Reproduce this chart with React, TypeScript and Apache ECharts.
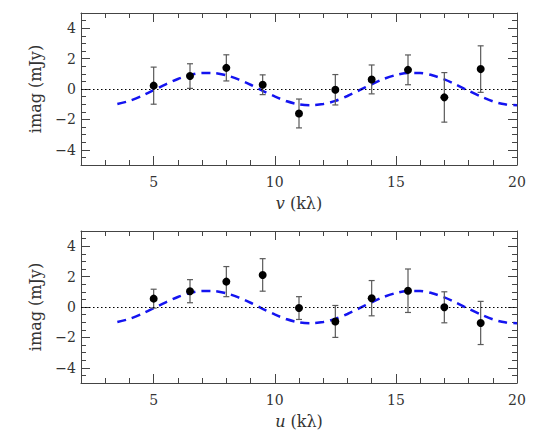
import React, { useEffect, useRef } from 'react';
import * as echarts from 'echarts';

// measured baselines (kλ)
const baselines = [5, 6.5, 8, 9.5, 11, 12.5, 14, 15.5, 17, 18.5];

// top panel: imag vs v
const vImag = [0.22, 0.85, 1.39, 0.28, -1.61, -0.05, 0.63, 1.26, -0.55, 1.31];
const vErr = [1.22, 0.81, 0.86, 0.65, 0.95, 1.0, 0.95, 0.98, 1.63, 1.53];

// bottom panel: imag vs u
const uImag = [0.55, 1.04, 1.67, 2.11, -0.07, -0.95, 0.58, 1.07, -0.02, -1.05];
const uErr = [0.62, 0.76, 0.99, 1.07, 0.75, 1.05, 1.16, 1.43, 1.02, 1.42];

// model curve (dashed)
const modelX = [3.5, 4, 4.5, 5, 5.5, 6, 6.5, 7, 7.5, 8, 8.5, 9, 9.5, 10, 10.5, 11, 11.5,
    12, 12.5, 13, 13.5, 14, 14.5, 15, 15.5, 16, 16.5, 17, 17.5, 18, 18.5, 19, 19.5, 20];
const modelY = [-0.99, -0.78, -0.46, -0.08, 0.31, 0.66, 0.92, 1.06, 1.05, 0.9, 0.63, 0.28,
    -0.12, -0.49, -0.81, -1.01, -1.07, -0.99, -0.78, -0.46, -0.08, 0.31, 0.66, 0.92, 1.06,
    1.05, 0.9, 0.63, 0.28, -0.12, -0.49, -0.81, -1.01, -1.07];

// ticks
const xMajor = [5, 10, 15, 20];
const xMinor = [3, 4, 6, 7, 8, 9, 11, 12, 13, 14, 16, 17, 18, 19];
const yMajor = [-4, -2, 0, 2, 4];
const yMinor = [-4.5, -3.5, -3, -2.5, -1.5, -1, -0.5, 0.5, 1, 1.5, 2.5, 3, 3.5, 4.5];

const FONT = 'DejaVu Serif';
const AXIS_COLOR = '#444';

const panels = [
    { top: 13, imag: vImag, err: vErr, label: 'v' },
    { top: 231, imag: uImag, err: uErr, label: 'u' }
];

const App: React.FC = () => {
    const chartRef = useRef<HTMLDivElement>(null);

    useEffect(() => {
        if (!chartRef.current) return;
        const chart = echarts.init(chartRef.current, null, { renderer: 'svg' });

        const grids: any[] = [];
        const xAxes: any[] = [];
        const yAxes: any[] = [];
        const series: any[] = [];

        panels.forEach((p, g) => {
            grids.push({ left: 81, top: p.top, width: 436, height: 152 });

            const xBase = {
                type: 'value', gridIndex: g, min: 2, max: 20,
                splitLine: { show: false }
            };
            const yBase = {
                type: 'value', gridIndex: g, min: -5, max: 5,
                splitLine: { show: false }
            };
            const line = { show: true, onZero: false, lineStyle: { color: AXIS_COLOR, width: 1 } };
            const noLine = { show: false, onZero: false };

            ['bottom', 'top'].forEach((pos, k) => {
                xAxes.push({
                    ...xBase, position: pos,
                    axisLine: line,
                    axisTick: { inside: true, length: 9, customValues: xMajor, lineStyle: { color: AXIS_COLOR } },
                    axisLabel: k === 0
                        ? { customValues: xMajor, margin: 10, color: '#333', fontFamily: FONT, fontSize: 14 }
                        : { show: false },
                    name: k === 0 ? `{i|${p.label}} (kλ)` : '',
                    nameLocation: 'middle',
                    nameGap: 30,
                    nameTextStyle: {
                        color: '#333', fontFamily: FONT, fontSize: 16,
                        rich: { i: { fontStyle: 'italic', fontFamily: FONT, fontSize: 16, color: '#333' } }
                    }
                });
                xAxes.push({
                    ...xBase, position: pos,
                    axisLine: noLine,
                    axisTick: { inside: true, length: 5, customValues: xMinor, lineStyle: { color: AXIS_COLOR } },
                    axisLabel: { show: false }
                });
            });

            ['left', 'right'].forEach((pos, k) => {
                yAxes.push({
                    ...yBase, position: pos,
                    axisLine: line,
                    axisTick: { inside: true, length: 9, customValues: yMajor, lineStyle: { color: AXIS_COLOR } },
                    axisLabel: k === 0
                        ? {
                            customValues: yMajor, margin: 5, color: '#333', fontFamily: FONT, fontSize: 14,
                            formatter: (v: number) => (v < 0 ? '\u2212' + Math.abs(v) : String(v))
                        }
                        : { show: false },
                    name: k === 0 ? 'imag (mJy)' : '',
                    nameLocation: 'middle',
                    nameGap: 38,
                    nameTextStyle: { color: '#333', fontFamily: FONT, fontSize: 16 }
                });
                yAxes.push({
                    ...yBase, position: pos,
                    axisLine: noLine,
                    axisTick: { inside: true, length: 5, customValues: yMinor, lineStyle: { color: AXIS_COLOR } },
                    axisLabel: { show: false }
                });
            });

            const xi = g * 4;
            const yi = g * 4;

            series.push({
                type: 'line',
                xAxisIndex: xi, yAxisIndex: yi,
                data: modelX.map((x, i) => [x, modelY[i]]),
                smooth: 0.3,
                showSymbol: false,
                z: 2,
                lineStyle: { color: '#1414f0', width: 2.5, type: [9, 6] },
                markLine: {
                    silent: true,
                    symbol: 'none',
                    label: { show: false },
                    lineStyle: { color: '#000', width: 1, type: [1.5, 2.5] },
                    data: [{ yAxis: 0 }]
                }
            });

            series.push({
                type: 'custom',
                xAxisIndex: xi, yAxisIndex: yi,
                z: 3,
                encode: { x: 0, y: [1, 2] },
                data: baselines.map((x, i) => [x, p.imag[i] - p.err[i], p.imag[i] + p.err[i]]),
                renderItem: (_params: any, api: any) => {
                    const x = api.value(0);
                    const hi = api.coord([x, api.value(2)]);
                    const lo = api.coord([x, api.value(1)]);
                    const w = 3;
                    const style = { stroke: '#5a5a5a', lineWidth: 1.2 };
                    return {
                        type: 'group',
                        children: [
                            { type: 'line', shape: { x1: hi[0], y1: hi[1], x2: lo[0], y2: lo[1] }, style },
                            { type: 'line', shape: { x1: hi[0] - w, y1: hi[1], x2: hi[0] + w, y2: hi[1] }, style },
                            { type: 'line', shape: { x1: lo[0] - w, y1: lo[1], x2: lo[0] + w, y2: lo[1] }, style }
                        ]
                    };
                }
            });

            series.push({
                type: 'scatter',
                xAxisIndex: xi, yAxisIndex: yi,
                z: 4,
                symbol: 'circle',
                symbolSize: 8,
                itemStyle: { color: '#000', opacity: 1 },
                data: baselines.map((x, i) => [x, p.imag[i]])
            });
        });

        chart.setOption({
            animation: false,
            backgroundColor: '#fff',
            grid: grids,
            xAxis: xAxes,
            yAxis: yAxes,
            series
        });

        return () => {
            chart.dispose();
        };
    }, []);

    return (
        <div
            ref={chartRef}
            style={{ position: 'fixed', left: 0, top: 0, width: 545, height: 436 }}
        />
    );
};

export default App;
